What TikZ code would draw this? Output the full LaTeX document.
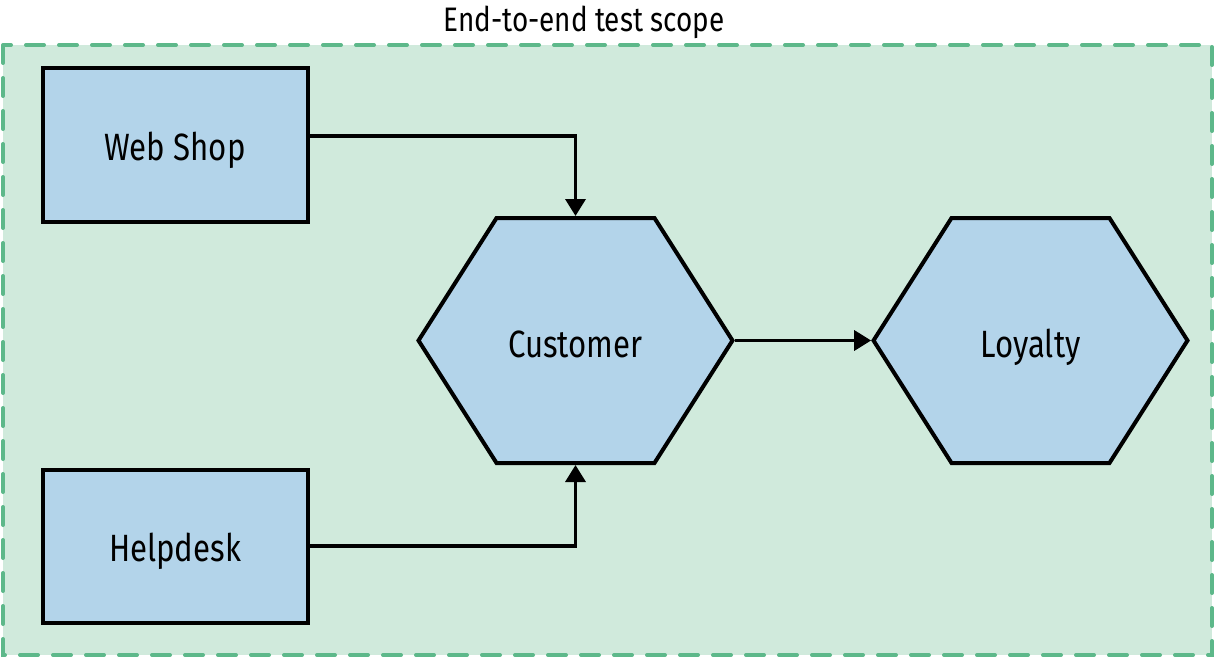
\documentclass[tikz,border=0pt]{standalone}
\usepackage{fontspec}
\setmainfont{Fira Sans}[FakeStretch=0.82]
\usetikzlibrary{positioning,arrows.meta,shapes.symbols}

\definecolor{scopegreen}{HTML}{D0EADC}
\definecolor{dashgreen}{HTML}{5DB88A}
\definecolor{boxblue}{HTML}{B3D4EA}

\begin{document}
\begin{tikzpicture}[
  x=1pt,y=-1pt,
  svc/.style={rectangle,draw,fill=boxblue,line width=4pt,minimum width=265pt,minimum height=153pt,text height=31pt,text depth=0pt,font=\fontsize{38}{44}\selectfont},
  hex/.style={signal,signal to=west and east,signal pointer angle=115,draw,fill=boxblue,line width=4pt,minimum width=314pt,minimum height=245pt,text height=33pt,text depth=0pt,font=\fontsize{38}{44}\selectfont},
  edge/.style={-{Triangle[length=17pt,width=20pt]},line width=3.5pt},
  scopebox/.style={draw=dashgreen,fill=scopegreen,line width=4pt,dash pattern=on 18pt off 15pt,line cap=round}
]
\useasboundingbox (0,0) rectangle (1215,658);
\draw[scopebox] (3,45) rectangle (1212,655);
\node[font=\fontsize{34}{40}\selectfont] (title) at (584,22) {End-to-end test scope};

\node[svc] (web) at (175,145) {Web Shop};
\node[svc] (help) at (175,546) {Helpdesk};
\node[hex] (cust) at (575.5,340.5) {Customer};
\node[hex] (loy) at (1030.5,340.5) {Loyalty};

\draw[edge] ([yshift=9pt]web.east) -| (cust.north);
\draw[edge] (help.east) -| (cust.south);
\draw[edge] (cust.east) -- (loy.west);
\end{tikzpicture}
\end{document}
